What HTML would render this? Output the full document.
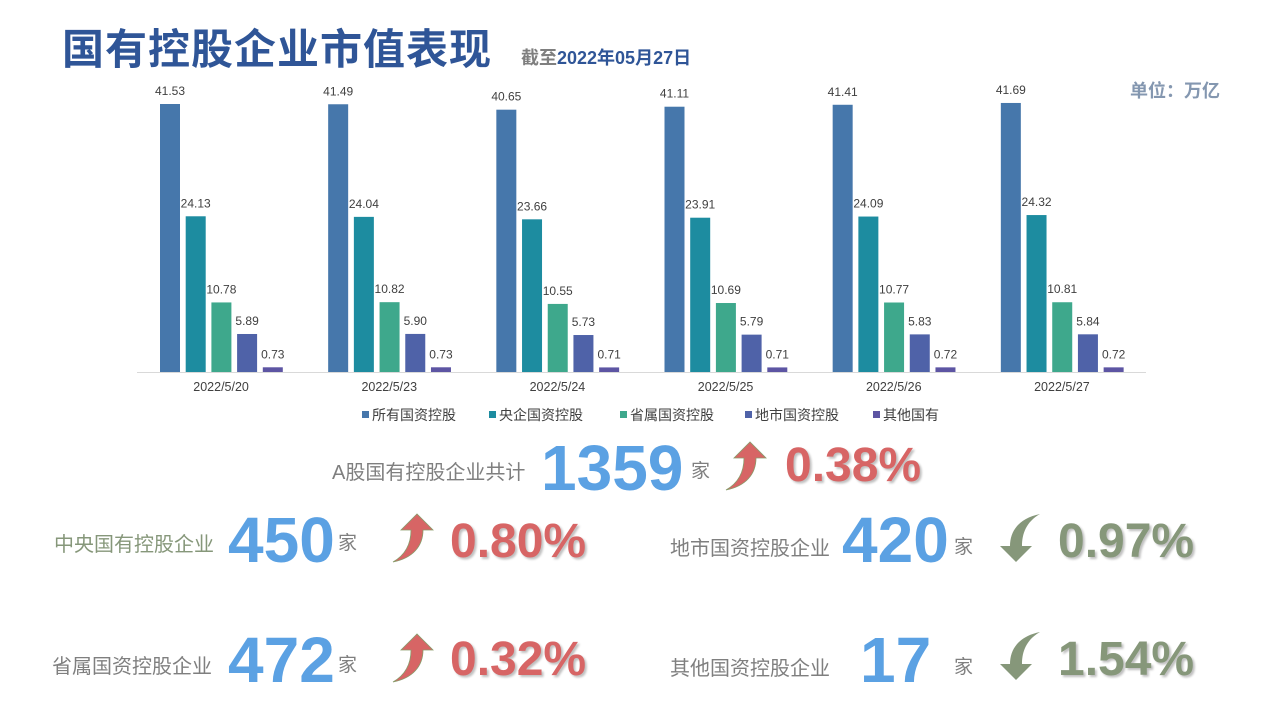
<!DOCTYPE html>
<html><head><meta charset="utf-8">
<style>
body{margin:0;width:1280px;height:720px;background:#fff;position:relative;overflow:hidden;font-family:"Liberation Sans","Noto Sans CJK SC",sans-serif}
.abs{position:absolute;white-space:nowrap}
.lbl{color:#7f7f7f;font-size:20px}
.big{color:#5ba1e3;font-weight:bold;font-size:64px;line-height:64px}
.jia{color:#7f7f7f;font-size:19px}
.pct{font-weight:bold;font-size:48px;line-height:48px;text-shadow:2px 2px 2px rgba(0,0,0,.25)}
.up{color:#d76565}.dn{color:#86977a}
</style></head><body>
<div class="abs" style="left:62px;top:16px;font-size:42px;font-weight:bold;color:#2f5597;letter-spacing:1px">国有控股企业市值表现</div>
<div class="abs" style="left:521px;top:44px;font-size:18px;font-weight:bold;color:#2f5597"><span style="color:#7f7f7f">截至</span>2022年05月27日</div>
<div class="abs" style="left:1130px;top:77px;font-size:18px;font-weight:bold;color:#8497b0">单位：万亿</div>

<svg class="abs" style="left:0;top:0" width="1280" height="430" id="chart"></svg>

<div class="abs lbl" style="left:332px;top:456px">A股国有控股企业共计</div>
<div class="abs big" style="left:541px;top:436px">1359</div>
<div class="abs jia" style="left:691px;top:456px">家</div>
<div class="abs pct up" style="left:785px;top:442px">0.38%</div>

<div class="abs lbl" style="left:54px;top:528px;color:#86977a">中央国有控股企业</div>
<div class="abs big" style="left:228px;top:508px">450</div>
<div class="abs jia" style="left:338px;top:528px">家</div>
<div class="abs pct up" style="left:450px;top:518px">0.80%</div>

<div class="abs lbl" style="left:670px;top:532px">地市国资控股企业</div>
<div class="abs big" style="left:842px;top:508px">420</div>
<div class="abs jia" style="left:954px;top:532px">家</div>
<div class="abs pct dn" style="left:1058px;top:518px">0.97%</div>

<div class="abs lbl" style="left:52px;top:650px">省属国资控股企业</div>
<div class="abs big" style="left:228px;top:628px">472</div>
<div class="abs jia" style="left:338px;top:650px">家</div>
<div class="abs pct up" style="left:450px;top:636px">0.32%</div>

<div class="abs lbl" style="left:670px;top:652px">其他国资控股企业</div>
<div class="abs big" style="left:860px;top:628px">17</div>
<div class="abs jia" style="left:954px;top:652px">家</div>
<div class="abs pct dn" style="left:1058px;top:636px">1.54%</div>

<svg class="abs" style="left:0;top:0" width="1280" height="720">
<defs>
<path id="upa" d="M0,48 C14,40 18,28 18,16 L8,16 L24,0 L40,16 L30,16 C30,32 20,44 0,48 Z"/>
<path id="dna" d="M0,0 C14,8 18,20 18,32 L8,32 L24,48 L40,32 L30,32 C30,16 20,4 0,0 Z"/>
</defs>
<use href="#upa" x="726" y="442" fill="#d76565" stroke="#8a9a6a" stroke-width="0.8"/>
<use href="#upa" x="393" y="514" fill="#d76565" stroke="#8a9a6a" stroke-width="0.8"/>
<use href="#upa" x="393" y="634" fill="#d76565" stroke="#8a9a6a" stroke-width="0.8"/>
<use href="#dna" x="1040" y="514" transform="translate(2080,0) scale(-1,1)" fill="#86977a"/>
<use href="#dna" x="1040" y="632" transform="translate(2080,0) scale(-1,1)" fill="#86977a"/>
</svg>

<script>
const categories=["2022/5/20","2022/5/23","2022/5/24","2022/5/25","2022/5/26","2022/5/27"];
const seriesNames=["所有国资控股","央企国资控股","省属国资控股","地市国资控股","其他国有"];
const sAll=[41.53,41.49,40.65,41.11,41.41,41.69];
const sCentral=[24.13,24.04,23.66,23.91,24.09,24.32];
const sProv=[10.78,10.82,10.55,10.69,10.77,10.81];
const sLocal=[5.89,5.90,5.73,5.79,5.83,5.84];
const sOther=[0.73,0.73,0.71,0.71,0.72,0.72];
const series=[sAll,sCentral,sProv,sLocal,sOther];
const colors=["#4677ab","#1d8ca0","#3ea88c","#4f62a8","#5d55a3"];
const NS="http://www.w3.org/2000/svg";
const svg=document.getElementById("chart");
const x0=137,x1=1146,base=372,scale=268/41.53;
const gw=(x1-x0)/categories.length;
const y=v=>base-v*scale;
const bx=(i,s)=>x0+i*gw+23+s*25.7;
function mk(t,a){const e=document.createElementNS(NS,t);for(const k in a)e.setAttribute(k,a[k]);svg.appendChild(e);return e;}
const ax=mk("line",{x1:x0,x2:x1,y1:base+0.5,y2:base+0.5,stroke:"#d9d9d9"});


categories.forEach((c,i)=>{
  const t=mk("text",{x:x0+i*gw+gw/2,y:391,"text-anchor":"middle","font-size":"12.5",fill:"#404040"});
  t.textContent=c;
  
  
  series.forEach((arr,s)=>{
    const r=mk("rect",{x:bx(i,s),y:y(arr[i]),width:20,height:arr[i]*scale,fill:colors[s]});
    
    
    const v=mk("text",{x:bx(i,s)+10,y:y(arr[i])-9,"text-anchor":"middle","font-size":"12",fill:"#404040"});
    v.textContent=arr[i].toFixed(2);
    
    
  });
});
const lx=[362,489,620,745,873];
seriesNames.forEach((n,s)=>{
  const sq=mk("rect",{x:lx[s],y:411,width:7,height:7,fill:colors[s]});
  
  
  const t=mk("text",{x:lx[s]+10,y:420,"font-size":"14",fill:"#404040"});
  t.textContent=n;
  
  
});
</script>
</body></html>
